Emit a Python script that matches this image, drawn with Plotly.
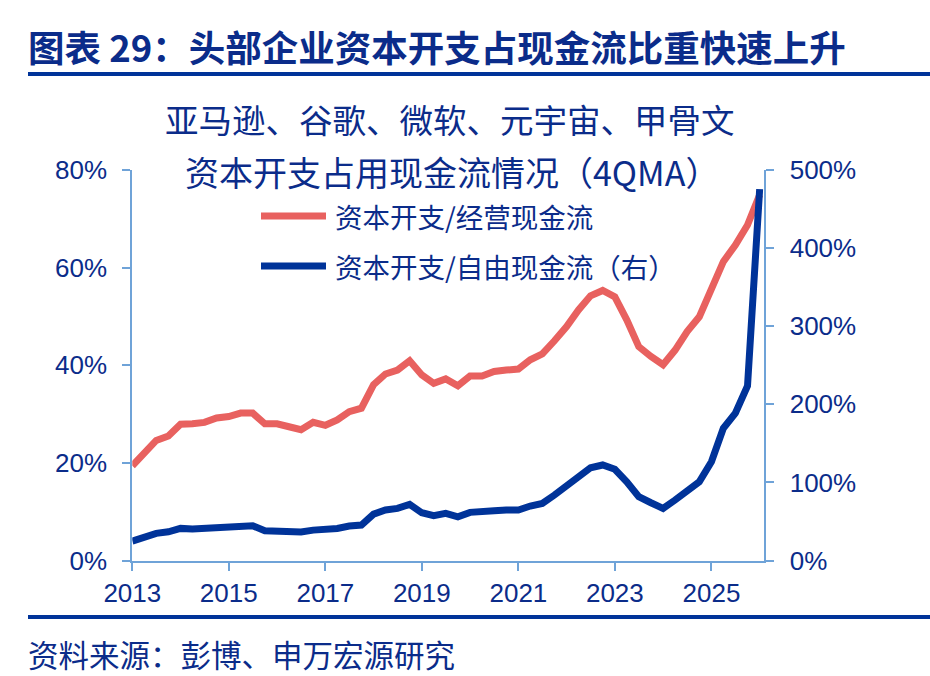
import plotly.graph_objects as go

# ---- data (quarterly, 4QMA) ----
quarters = [f"{y}-{m:02d}-01" for y in range(2013, 2027) for m in (1, 4, 7, 10)][:53]

capex_to_ocf = [19.4, 22.0, 24.6, 25.5, 27.9, 28.0, 28.3, 29.2, 29.5, 30.2,
                30.2, 28.0, 28.0, 27.4, 26.8, 28.3, 27.7, 28.8, 30.5, 31.2,
                36.0, 38.2, 39.0, 40.9, 38.0, 36.3, 37.2, 35.8, 37.8, 37.8,
                38.7, 39.0, 39.2, 41.1, 42.3, 45.0, 47.9, 51.3, 54.2, 55.3,
                54.0, 49.3, 43.8, 41.8, 40.1, 43.1, 46.9, 49.9, 55.4, 61.2,
                64.6, 68.7, 74.9]

capex_to_fcf = [25.0, 30.0, 34.8, 36.9, 41.2, 40.3, 41.2, 43.3, 44.2, 44.6,
                44.6, 38.2, 38.2, 37.8, 36.5, 39.0, 39.0, 41.2, 44.2, 45.5,
                59.5, 64.7, 66.8, 72.0, 61.2, 57.4, 60.4, 56.1, 61.7, 61.7,
                63.8, 64.7, 64.7, 69.8, 73.2, 83.9, 95.4, 107.3, 118.8, 122.3,
                116.8, 100.9, 81.7, 74.0, 66.8, 77.5, 89.4, 100.9, 126.5, 169.3,
                188.5, 223.4, 475.3]

left_ticks = [0, 20, 40, 60, 80]
left_labels = ["0%", "20%", "40%", "60%", "80%"]
right_ticks = [0, 100, 200, 300, 400, 500]
right_labels = ["0%", "100%", "200%", "300%", "400%", "500%"]

series_names = ["资本开支/经营现金流", "资本开支/自由现金流（右）"]
title_text = "图表 29：头部企业资本开支占现金流比重快速上升"
subtitle1 = "亚马逊、谷歌、微软、元宇宙、甲骨文"
subtitle2 = "资本开支占用现金流情况（4QMA）"
source_text = "资料来源：彭博、申万宏源研究"

# ---- styles ----
W, H = 930, 676
RED = "#E8615F"
BLUE = "#003399"
TXT = "#0B2C8A"
AXC = "#6FA3D8"
CJK = "Noto Sans CJK SC"
LAT = "Liberation Sans, Arial, sans-serif"

def px(x):
    return x / W

def py(y):
    return 1 - y / H

fig = go.Figure()
fig.add_trace(go.Scatter(x=quarters, y=capex_to_ocf, mode="lines",
                         line=dict(color=RED, width=7), name=series_names[0],
                         showlegend=False, yaxis="y"))
fig.add_trace(go.Scatter(x=quarters, y=capex_to_fcf, mode="lines",
                         line=dict(color=BLUE, width=7), name=series_names[1],
                         showlegend=False, yaxis="y2"))

x0, x1 = 132.3, 763.5
y0, y1 = 560.6, 169.8

axis_common = dict(
    showgrid=False, zeroline=False, automargin=False,
    showline=True, linecolor=AXC, linewidth=2,
    ticks="outside", ticklen=8, tickwidth=2, tickcolor=AXC,
    tickfont=dict(family=LAT, size=26, color=TXT),
)

fig.update_layout(
    width=W, height=H,
    margin=dict(l=0, r=0, t=0, b=0, pad=0, autoexpand=False),
    paper_bgcolor="white", plot_bgcolor="white",
    showlegend=False,
    xaxis=dict(
        domain=[px(x0), px(x1)],
        type="date",
        range=["2013-01-01", "2026-01-30"],
        tick0="2013-01-01", dtick="M24", tickformat="%Y",
        ticklabelstandoff=0,
        anchor="y",
        **axis_common,
    ),
    yaxis=dict(
        domain=[py(y0), py(y1)],
        range=[0, 80],
        tickmode="array", tickvals=left_ticks, ticktext=left_labels,
        ticklabelstandoff=10,
        **axis_common,
    ),
    yaxis2=dict(
        domain=[py(y0), py(y1)],
        range=[0, 500],
        overlaying="y", side="right", anchor="x",
        tickmode="array", tickvals=right_ticks, ticktext=right_labels,
        ticklabelstandoff=11,
        **axis_common,
    ),
)

shapes = [
    dict(type="line", xref="paper", yref="paper", x0=px(28), x1=1, y0=py(74), y1=py(74),
         line=dict(color=BLUE, width=4)),
    dict(type="line", xref="paper", yref="paper", x0=px(28), x1=1, y0=py(617), y1=py(617),
         line=dict(color=BLUE, width=4)),
    dict(type="line", xref="paper", yref="paper", x0=px(261), x1=px(326), y0=py(216), y1=py(216),
         line=dict(color=RED, width=7)),
    dict(type="line", xref="paper", yref="paper", x0=px(261), x1=px(326), y0=py(266), y1=py(266),
         line=dict(color=BLUE, width=7)),
]
fig.update_layout(shapes=shapes)

ann = [
    dict(text=f"<b>{title_text}</b>", x=px(26), y=py(47), xanchor="left", yanchor="middle",
         font=dict(family=CJK, size=36.5, color=TXT)),
    dict(text=subtitle1, x=px(450), y=py(118), xanchor="center", yanchor="middle",
         font=dict(family=CJK, size=33.5, color=TXT)),
    dict(text=subtitle2, x=px(452), y=py(172), xanchor="center", yanchor="middle",
         font=dict(family=CJK, size=34, color=TXT)),
    dict(text=series_names[0], x=px(333), y=py(216), xanchor="left", yanchor="middle",
         font=dict(family=CJK, size=27.5, color=TXT)),
    dict(text=series_names[1], x=px(333), y=py(266), xanchor="left", yanchor="middle",
         font=dict(family=CJK, size=27.5, color=TXT)),
    dict(text=source_text, x=px(26), y=py(654), xanchor="left", yanchor="middle",
         font=dict(family=CJK, size=30.5, color=TXT)),
]
for a in ann:
    a.update(xref="paper", yref="paper", showarrow=False)
fig.update_layout(annotations=ann)

fig.write_html("out.html")
